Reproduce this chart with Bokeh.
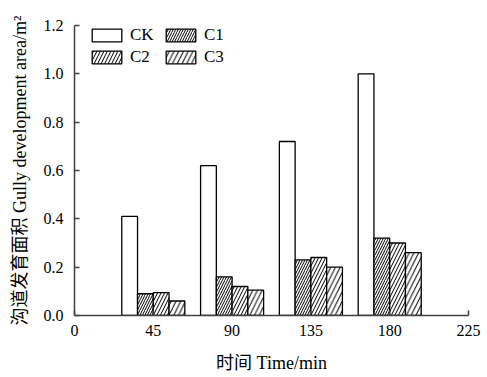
from bokeh.plotting import figure
from bokeh.models import ColumnDataSource, Legend, LegendItem, FixedTicker, NumeralTickFormatter, Range1d
from bokeh.embed import file_html
from bokeh.resources import INLINE

times = [45, 90, 135, 180]
series_names = ["CK", "C1", "C2", "C3"]
ck = [0.41, 0.62, 0.72, 1.00]
c1 = [0.09, 0.16, 0.23, 0.32]
c2 = [0.095, 0.12, 0.24, 0.30]
c3 = [0.06, 0.105, 0.20, 0.26]
x_ticks = [0, 45, 90, 135, 180, 225]
y_ticks = [0.0, 0.2, 0.4, 0.6, 0.8, 1.0, 1.2]

SERIF = "'Liberation Serif', 'Times New Roman', 'Noto Sans CJK SC', serif"

p = figure(width=487, height=377, output_backend="svg", toolbar_location=None,
           x_range=Range1d(0, 225), y_range=Range1d(0, 1.2),
           min_border_left=74, min_border_right=19, min_border_top=25, min_border_bottom=62)
p.outline_line_color = None
p.grid.grid_line_color = None
p.background_fill_color = "white"
p.border_fill_color = "white"

bar_w = 9
offsets = [-13.5, -4.5, 4.5, 13.5]
values = [ck, c1, c2, c3]
hatches = [None, 5, 7, 9.5]
renderers = []
for name, vals, off, hs in zip(series_names, values, offsets, hatches):
    src = ColumnDataSource(dict(x=[t + off for t in times], top=vals))
    kw = dict(x="x", top="top", bottom=0, width=bar_w, source=src,
              fill_color="white", line_color="black", line_width=1.3)
    if hs is not None:
        kw.update(hatch_pattern="right_diagonal_line", hatch_scale=hs,
                  hatch_color="black", hatch_weight=1.0)
    r = p.vbar(**kw)
    renderers.append(r)

legend = Legend(items=[LegendItem(label=n, renderers=[r]) for n, r in zip(series_names, renderers)],
                location=(14, 248), orientation="horizontal", ncols=2,
                glyph_width=37, glyph_height=16, label_height=18, label_width=30,
                label_standoff=5, spacing=2, padding=0, margin=0,
                border_line_color=None, background_fill_alpha=0,
                label_text_font=SERIF, label_text_font_size="17px", label_text_color="black")
p.add_layout(legend, "center")

for ax in (p.xaxis[0], p.yaxis[0]):
    ax.axis_line_color = "#404040"
    ax.axis_line_width = 1.5
    ax.major_tick_line_color = "#404040"
    ax.major_tick_line_width = 1.5
    ax.major_tick_in = 5
    ax.major_tick_out = 0
    ax.minor_tick_line_color = None
    ax.major_label_text_font = SERIF
    ax.major_label_text_font_size = "16px"
    ax.major_label_text_color = "black"
    ax.axis_label_text_font = SERIF
    ax.axis_label_text_font_size = "18px"
    ax.axis_label_text_font_style = "normal"
    ax.axis_label_text_color = "black"

p.xaxis.ticker = FixedTicker(ticks=x_ticks)
p.yaxis.ticker = FixedTicker(ticks=y_ticks)
p.yaxis.formatter = NumeralTickFormatter(format="0.0")
p.xaxis.axis_label = "时间 Time/min"
p.yaxis.axis_label = "沟道发育面积 Gully development area/m²"
p.xaxis.major_label_standoff = 9
p.yaxis.major_label_standoff = 11
p.xaxis.axis_label_standoff = 14
p.yaxis.axis_label_standoff = 11

open("out.html", "w").write(file_html(p, INLINE))
